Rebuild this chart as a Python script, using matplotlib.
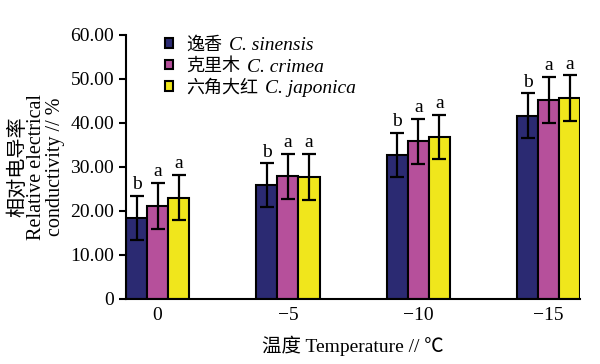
import numpy as np
import matplotlib
matplotlib.use('Agg')
import matplotlib.pyplot as plt
from matplotlib.transforms import IdentityTransform

plt.rcParams['font.family'] = ['Liberation Serif', 'Noto Sans CJK SC']

# data
temps = ['0', '\u22125', '\u221210', '\u221215']
names_cn = ['逸香', '克里木', '六角大红']
names_lat = ['C. sinensis', 'C. crimea', 'C. japonica']
sinensis = [18.4, 25.8, 32.7, 41.6]
crimea = [21.1, 27.9, 35.8, 45.2]
japonica = [23.0, 27.7, 36.8, 45.6]
sinensis_err = [5.0, 5.0, 5.0, 5.1]
crimea_err = [5.3, 5.1, 5.2, 5.2]
japonica_err = [5.1, 5.2, 5.0, 5.2]
letters = [['b', 'a', 'a'], ['b', 'a', 'a'], ['b', 'a', 'a'], ['b', 'a', 'a']]

colors = ['#2b2a72', '#b6509b', '#f0e61c']
values = [sinensis, crimea, japonica]
errors = [sinensis_err, crimea_err, japonica_err]

fig = plt.figure(figsize=(6, 3.64), dpi=100)
ax = fig.add_axes([0.21, 0.179, 0.757, 0.725])

x = np.arange(len(temps))
w = 0.1615
for i in range(3):
    pos = x + (i - 1) * w
    ax.bar(pos, values[i], w, color=colors[i], edgecolor='black', linewidth=1.5,
           label=names_cn[i], zorder=2)
    ax.errorbar(pos, values[i], yerr=errors[i], fmt='none', ecolor='black',
                elinewidth=1.6, capsize=5, capthick=1.6, zorder=3)
    for j in range(len(temps)):
        ax.annotate(letters[j][i], (pos[j], values[i][j] + errors[i][j]),
                    xytext=(0, 2), textcoords='offset points',
                    ha='center', va='bottom', fontsize=14)

ax.set_xlim(-0.2423, 3.2423)
ax.set_ylim(0, 60)
ax.set_yticks([0, 10, 20, 30, 40, 50, 60])
ax.set_yticklabels(['0', '10.00', '20.00', '30.00', '40.00', '50.00', '60.00'])
ax.set_xticks(x)
ax.set_xticklabels(temps)
ax.tick_params(axis='x', length=0, labelsize=14, pad=6)
ax.tick_params(axis='y', length=5, width=1.5, labelsize=14, direction='out')
ax.spines['top'].set_visible(False)
ax.spines['right'].set_visible(False)
ax.spines['left'].set_linewidth(1.5)
ax.spines['bottom'].set_linewidth(1.5)

ax.set_xlabel('温度 Temperature // ℃', fontsize=14, labelpad=8)
ax.set_ylabel('相对电导率\nRelative electrical\nconductivity // %', fontsize=14.5,
              linespacing=0.95, labelpad=4)

leg = ax.legend(loc='upper left', bbox_to_anchor=(0.263, 0.92), bbox_transform=fig.transFigure,
                frameon=False, fontsize=13, handlelength=0.45, handleheight=0.45,
                handletextpad=0.7, labelspacing=0.25, borderaxespad=0)

# italic latin names after the chinese legend labels
fig.canvas.draw()
for t, name in zip(leg.get_texts(), names_lat):
    bb = t.get_window_extent()
    fig.text(bb.x1 + 7, (bb.y0 + bb.y1) / 2 - 1, name, transform=IdentityTransform(),
             fontsize=14, style='italic', va='center', ha='left')

fig.savefig('out.png', dpi=100)
